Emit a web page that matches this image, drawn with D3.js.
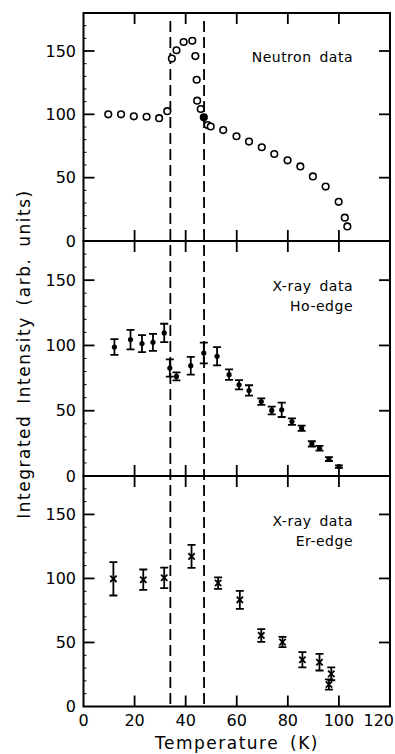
<!DOCTYPE html>
<html>
<head>
<meta charset="utf-8">
<script src="https://cdn.jsdelivr.net/npm/d3@7"></script>
<style>
  html, body { margin: 0; padding: 0; background: #fff; }
  svg { display: block; }
  text { font-family: "DejaVu Sans", sans-serif; fill: #000; }
</style>
</head>
<body>
<svg id="chart" width="395" height="754"></svg>
<script>
// ---- data ----
const neutronT = [9.7, 14.7, 19.7, 24.7, 29.6, 32.8, 34.6, 36.4, 39.2, 42.6, 43.8, 44.3, 44.5, 45.9, 47.1, 48.6, 49.8, 54.7, 59.9, 64.8, 69.8, 74.7, 79.9, 84.9, 89.8, 94.8, 99.9, 102.3, 103.3];
const neutronI = [100, 100, 98.4, 98.1, 97, 102.5, 144, 150.6, 157.1, 158.1, 146, 127.3, 110.8, 104.2, 97.6, 91.5, 90.4, 87.6, 82.7, 78.5, 74, 68.7, 63.7, 58.9, 51, 43, 30.9, 18.4, 11.5];
const neutronFilledT = [47.1];

const hoT   = [12.1, 18.4, 22.9, 27.2, 31.6, 33.8, 36.4, 42.0, 47.1, 52.3, 57.0, 60.9, 64.8, 69.6, 73.7, 77.6, 81.6, 85.4, 89.4, 92.4, 96.1, 100.0];
const hoI   = [98.8, 104.5, 101.4, 102.4, 109.6, 82.7, 76.3, 84.5, 94.2, 91.7, 77.6, 69.9, 65.5, 57.0, 50.2, 50.7, 41.7, 36.6, 24.6, 21.2, 13.0, 7.2];
const hoErr = [6, 7.5, 6.5, 6.5, 7, 6.6, 3, 6.8, 8, 7, 4, 3.5, 4, 2.5, 3, 5.5, 2.5, 2, 2, 1.8, 1.5, 1];

const erT   = [11.7, 23.4, 31.6, 42.3, 52.7, 61.2, 69.6, 77.9, 85.7, 92.4, 97.0, 96.1];
const erI   = [99.7, 99.0, 100.5, 117.2, 96.4, 83.3, 55.5, 50.3, 36.5, 34.6, 25.5, 17.2];
const erErr = [13, 8, 8, 9, 4.5, 7, 5, 4, 6, 6.5, 5, 4];

const transitionT = [34.0, 47.2];

const xTicks = [0, 20, 40, 60, 80, 100, 120];
const yTicks = [0, 50, 100, 150];
const yMinorTicks = [10, 20, 30, 40, 60, 70, 80, 90, 110, 120, 130, 140, 160, 170];

const panelLabels = [["Neutron data"], ["X-ray data", "Ho-edge"], ["X-ray data", "Er-edge"]];
const xTitle = "Temperature (K)";
const yTitle = "Integrated Intensity (arb. units)";

// ---- layout ----
const svg = d3.select("#chart");
const x = d3.scaleLinear().domain([0, 120]).range([83.5, 390]);
const panels = [
  { top: 13,  bottom: 241 },
  { top: 241, bottom: 476 },
  { top: 476, bottom: 706.5 }
];
const ys = panels.map(p => d3.scaleLinear().domain([0, 180]).range([p.bottom, p.top]));

const majorLen = 11, minorLen = 3;
const strokeW = 1.8;

panels.forEach((p, i) => {
  const y = ys[i];
  const g = svg.append("g");

  // frame
  g.append("rect")
    .attr("x", x(0)).attr("y", p.top)
    .attr("width", x(120) - x(0)).attr("height", p.bottom - p.top)
    .attr("fill", "none").attr("stroke", "#000").attr("stroke-width", 2);

  // x ticks (top & bottom, inward)
  const inner = xTicks.filter(t => t > 0 && t < 120);
  g.selectAll(".xb").data(inner).join("line")
    .attr("x1", d => x(d)).attr("x2", d => x(d))
    .attr("y1", p.bottom).attr("y2", p.bottom - majorLen)
    .attr("stroke", "#000").attr("stroke-width", strokeW);
  g.selectAll(".xt").data(inner).join("line")
    .attr("x1", d => x(d)).attr("x2", d => x(d))
    .attr("y1", p.top).attr("y2", p.top + majorLen)
    .attr("stroke", "#000").attr("stroke-width", strokeW);

  // y ticks left & right
  const yt = yTicks.filter(t => t > 0);
  g.selectAll(".yl").data(yt).join("line")
    .attr("x1", x(0)).attr("x2", x(0) + majorLen)
    .attr("y1", d => y(d)).attr("y2", d => y(d))
    .attr("stroke", "#000").attr("stroke-width", strokeW);
  g.selectAll(".yr").data(yt).join("line")
    .attr("x1", x(120)).attr("x2", x(120) - majorLen)
    .attr("y1", d => y(d)).attr("y2", d => y(d))
    .attr("stroke", "#000").attr("stroke-width", strokeW);
  g.selectAll(".ym").data(yMinorTicks).join("line")
    .attr("x1", x(0)).attr("x2", x(0) + minorLen)
    .attr("y1", d => y(d)).attr("y2", d => y(d))
    .attr("stroke", "#000").attr("stroke-width", 1);

  // y tick labels
  g.selectAll(".ytl").data(yTicks).join("text")
    .attr("x", 76).attr("y", d => y(d))
    .attr("dy", "0.36em")
    .attr("text-anchor", "end")
    .attr("font-size", 16)
    .text(d => d);

  // panel label
  const lab = g.append("text")
    .attr("text-anchor", "end")
    .attr("font-size", 14)
    .attr("letter-spacing", 0.5)
    .attr("word-spacing", 3);
  panelLabels[i].forEach((s, k) => {
    lab.append("tspan")
      .attr("x", 353)
      .attr("y", p.top + (i === 0 ? 49 : 50) + k * 20)
      .text(s);
  });
});

// x tick labels (the last one is kept inside the picture, as in the reference)
svg.append("g").selectAll("text").data(xTicks).join("text")
  .attr("x", d => d === 120 ? 394 : x(d)).attr("y", 726)
  .attr("text-anchor", d => d === 120 ? "end" : "middle")
  .attr("font-size", 16)
  .text(d => d);

// axis titles
svg.append("text")
  .attr("x", 237).attr("y", 749)
  .attr("text-anchor", "middle")
  .attr("font-size", 17)
  .attr("letter-spacing", 1.5)
  .attr("word-spacing", 4)
  .text(xTitle);

svg.append("text")
  .attr("transform", "translate(30,354) rotate(-90)")
  .attr("text-anchor", "middle")
  .attr("font-size", 17)
  .attr("letter-spacing", 1.5)
  .attr("word-spacing", 4)
  .text(yTitle);

// dashed transition lines
svg.append("g").selectAll("line").data(transitionT).join("line")
  .attr("x1", d => x(d)).attr("x2", d => x(d))
  .attr("y1", 21).attr("y2", panels[2].bottom)
  .attr("stroke", "#000").attr("stroke-width", 1.8)
  .attr("stroke-dasharray", "11,5");

// ---- panel 1: neutron ----
const y1 = ys[0];
svg.append("g").selectAll("circle").data(neutronT.map((t, i) => ({ t, v: neutronI[i] })))
  .join("circle")
  .attr("cx", d => x(d.t)).attr("cy", d => y1(d.v))
  .attr("r", 3.3)
  .attr("fill", d => neutronFilledT.includes(d.t) ? "#000" : "#fff")
  .attr("stroke", "#000").attr("stroke-width", 1.6);

// error bar helper
function errorBars(g, data, y) {
  const cap = 4;
  g.selectAll(".eb").data(data).join("path")
    .attr("d", d => {
      const cx = x(d.t), top = y(d.v + d.e), bot = y(d.v - d.e);
      return `M${cx},${top}V${bot}M${cx - cap},${top}H${cx + cap}M${cx - cap},${bot}H${cx + cap}`;
    })
    .attr("fill", "none").attr("stroke", "#000").attr("stroke-width", 1.8);
}

// ---- panel 2: Ho-edge ----
const y2 = ys[1];
const hoData = hoT.map((t, i) => ({ t, v: hoI[i], e: hoErr[i] }));
const g2 = svg.append("g");
errorBars(g2, hoData, y2);
g2.selectAll("circle").data(hoData).join("circle")
  .attr("cx", d => x(d.t)).attr("cy", d => y2(d.v))
  .attr("r", 2.6).attr("fill", "#000");

// ---- panel 3: Er-edge ----
const y3 = ys[2];
const erData = erT.map((t, i) => ({ t, v: erI[i], e: erErr[i] }));
const g3 = svg.append("g");
errorBars(g3, erData, y3);
const star = d3.symbol().type(d3.symbolX).size(28);
g3.selectAll(".mk").data(erData).join("path")
  .attr("transform", d => `translate(${x(d.t)},${y3(d.v)})`)
  .attr("d", star)
  .attr("fill", "none").attr("stroke", "#000").attr("stroke-width", 1.8);
</script>
</body>
</html>
